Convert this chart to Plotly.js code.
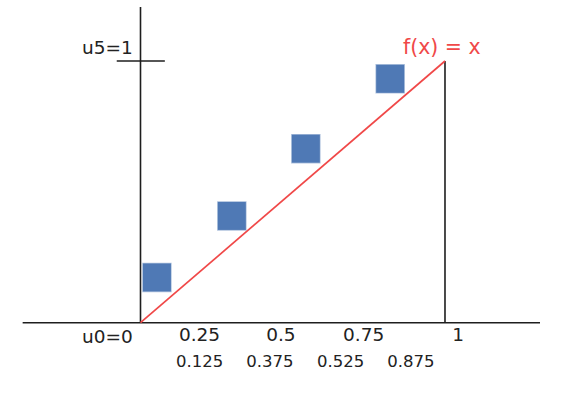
<!DOCTYPE html>
<html>
<head>
<meta charset="utf-8">
<script src="https://cdn.plot.ly/plotly-3.0.1.min.js"></script>
<style>html,body{margin:0;padding:0;background:#fff}#chart{width:566px;height:394px}</style>
</head>
<body>
<div id="chart"></div>
<script>
// Sample points (squares)
const pointX = [0.054, 0.300, 0.543, 0.820];
const pointY = [0.173, 0.408, 0.665, 0.932];
// Reference function f(x) = x
const lineX = [0, 1];
const lineY = [0, 1];
// Primary tick labels (row 1) and their positions
const tickLabels1 = ["0.25", "0.5", "0.75", "1"];
const tickPos1 = [0.194, 0.461, 0.733, 1.043];
// Secondary labels (row 2)
const tickLabels2 = ["0.125", "0.375", "0.525", "0.875"];
const tickPos2 = [0.194, 0.425, 0.657, 0.888];
// Axis labels
const originLabel = "u0=0";
const topLabel = "u5=1";
const funcLabel = "f(x) = x";

const axisColor = "#1e1e1e";
const font = "DejaVu Sans, Verdana, sans-serif";

const traces = [
  // horizontal axis
  {x: [-0.387, 1.312], y: [0, 0], mode: "lines", line: {color: axisColor, width: 1.6}, hoverinfo: "skip"},
  // vertical axis at x=0
  {x: [0, 0], y: [0, 1.206], mode: "lines", line: {color: axisColor, width: 1.6}, hoverinfo: "skip"},
  // vertical line at x=1
  {x: [1, 1], y: [0, 1], mode: "lines", line: {color: axisColor, width: 1.6}, hoverinfo: "skip"},
  // tick at y=1
  {x: [-0.078, 0.08], y: [1, 1], mode: "lines", line: {color: axisColor, width: 1.6}, hoverinfo: "skip"},
  // f(x) = x
  {x: lineX, y: lineY, mode: "lines", line: {color: "#f04848", width: 1.7}, hoverinfo: "skip"},
  // squares
  {x: pointX, y: pointY, mode: "markers",
   marker: {symbol: "square", size: 28, color: "#4f79b5", line: {color: "rgba(79,121,181,0.45)", width: 1.5}}},
  // row 1 labels
  {x: tickPos1, y: tickPos1.map(() => -0.051), mode: "text", text: tickLabels1,
   textposition: "middle center", textfont: {family: font, size: 18.5, color: "#222"}, hoverinfo: "skip"},
  // row 2 labels
  {x: tickPos2, y: tickPos2.map(() => -0.152), mode: "text", text: tickLabels2,
   textposition: "middle center", textfont: {family: font, size: 16.5, color: "#222"}, hoverinfo: "skip"}
];

const layout = {
  width: 566, height: 394,
  margin: {l: 0, r: 0, t: 0, b: 0},
  paper_bgcolor: "#fff", plot_bgcolor: "#fff",
  showlegend: false,
  xaxis: {range: [-0.4614, 1.3974], visible: false, fixedrange: true},
  yaxis: {range: [-0.2724, 1.2331], visible: false, fixedrange: true},
  annotations: [
    {x: -0.018, y: -0.051, xref: "x", yref: "y", text: originLabel, showarrow: false,
     xanchor: "right", yanchor: "middle", font: {family: font, size: 18.5, color: "#222"}},
    {x: -0.018, y: 1.05, xref: "x", yref: "y", text: topLabel, showarrow: false,
     xanchor: "right", yanchor: "middle", font: {family: font, size: 18.5, color: "#222"}},
    {x: 0.99, y: 1.055, xref: "x", yref: "y", text: funcLabel, showarrow: false,
     xanchor: "center", yanchor: "middle", font: {family: font, size: 20.5, color: "#f04848"}}
  ]
};

Plotly.newPlot("chart", traces, layout, {displayModeBar: false, staticPlot: true});
</script>
</body>
</html>
